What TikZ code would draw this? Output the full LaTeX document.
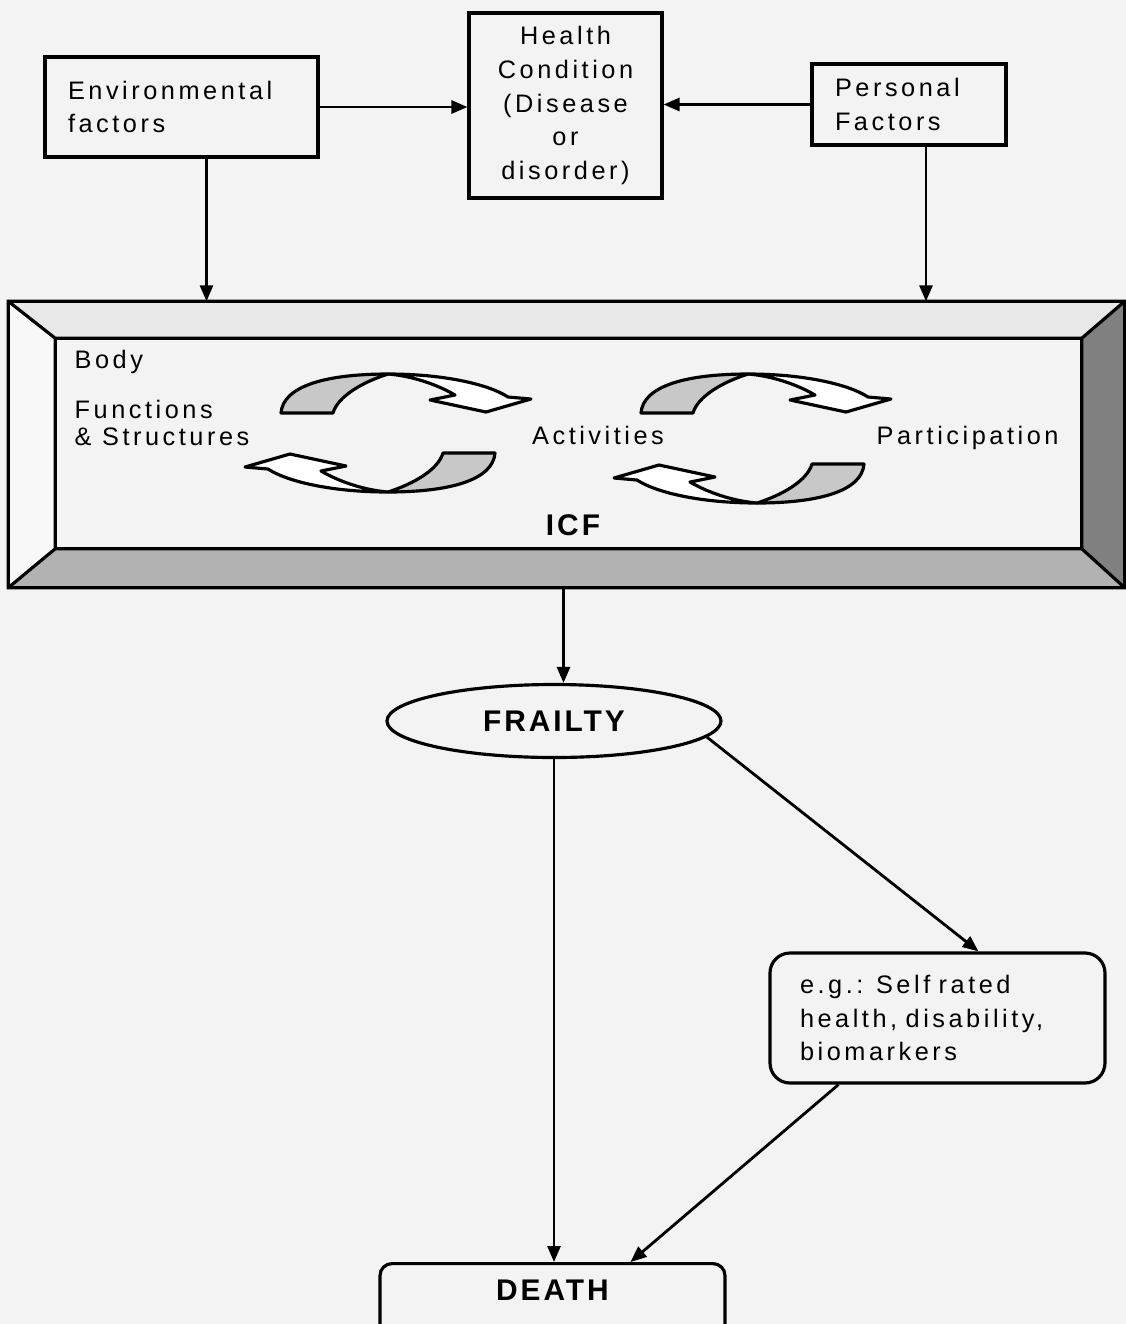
\documentclass[tikz,border=0pt]{standalone}
\usepackage{fontspec}
\setmainfont{Liberation Sans}[LetterSpace=14]
\newfontfamily\headfont{Liberation Sans}[LetterSpace=10]
\usetikzlibrary{positioning,arrows.meta,shapes.geometric}
\definecolor{paper}{RGB}{243,243,243}
\definecolor{ribgray}{RGB}{200,200,200}
\definecolor{bevtop}{RGB}{232,232,232}
\definecolor{bevleft}{RGB}{248,248,248}
\definecolor{bevright}{RGB}{128,128,128}
\definecolor{bevbot}{RGB}{178,178,178}
\tikzset{
  txt/.style={font=\fontsize{7.2}{9.6}\selectfont},
  fbox/.style={txt,draw,line width=0.9pt,inner sep=0pt},
  hlab/.style={font=\headfont\bfseries\fontsize{8.5}{10}\selectfont},
  arr/.style={line width=0.8pt,-{Triangle[length=1.6mm,width=1.3mm]}},
  rib/.style={draw,line width=0.9pt,line join=round},
  cyc/.pic={
    \filldraw[rib,fill=ribgray] (-1.07,-0.39) .. controls (-1.05,-0.12) and (-0.62,0) .. (0,0) .. controls (-0.25,-0.08) and (-0.50,-0.22) .. (-0.55,-0.39) -- cycle;
    \filldraw[rib,fill=white] (0,0) .. controls (0.55,0) and (1.00,-0.10) .. (1.20,-0.23) -- (1.43,-0.25) -- (0.98,-0.38) -- (0.42,-0.26) -- (0.67,-0.21) .. controls (0.50,-0.11) and (0.25,-0.02) .. (0,0) -- cycle;
  }
}

\begin{document}
\begin{tikzpicture}
  \useasboundingbox[fill=paper] (0,0) rectangle (11.26,-13.24);
  \node[fbox,minimum width=2.73cm,minimum height=1cm,text width=2.27cm,align=left] (env) at (1.815,-1.07) {Environmental\\factors};
  \node[fbox,minimum width=1.93cm,minimum height=1.85cm,align=center] (health) at (5.655,-1.055) {Health\\Condition\\(Disease\\or\\disorder)};
  \node[fbox,minimum width=1.94cm,minimum height=0.81cm,text width=1.48cm,align=left] (pers) at (9.09,-1.045) {Personal\\Factors};

  \node[minimum width=11.15cm,minimum height=2.85cm,inner sep=0pt] (icf) at (5.665,-4.445) {};
  \coordinate (inw) at ([shift={(0.47,-0.37)}]icf.north west);
  \coordinate (ine) at ([shift={(-0.43,-0.37)}]icf.north east);
  \coordinate (ise) at ([shift={(-0.43,0.39)}]icf.south east);
  \coordinate (isw) at ([shift={(0.47,0.39)}]icf.south west);
  \fill[bevtop] (icf.north west) -- (icf.north east) -- (ine) -- (inw) -- cycle;
  \fill[bevright] (icf.north east) -- (icf.south east) -- (ise) -- (ine) -- cycle;
  \fill[bevbot] (icf.south east) -- (icf.south west) -- (isw) -- (ise) -- cycle;
  \fill[bevleft] (icf.south west) -- (icf.north west) -- (inw) -- (isw) -- cycle;
  \draw[line width=0.9pt] (icf.north west) rectangle (icf.south east) (inw) rectangle (ise)
    (icf.north west) -- (inw) (icf.north east) -- (ine) (icf.south east) -- (ise) (icf.south west) -- (isw);

  \node[txt,anchor=west,inner sep=0pt] (body) at (0.74,-3.62) {Body};
  \node[txt,anchor=west,inner sep=0pt,align=left,font=\fontsize{7.2}{7.9}\selectfont] (func) at (0.74,-4.23) {Functions\\\& Structures};
  \node[txt] (act) at (5.98,-4.35) {Activities};
  \node[txt,anchor=west,inner sep=0pt] (part) at (8.76,-4.38) {Participation};
  \node[hlab] (icflab) at (5.73,-5.25) {ICF};
  \pic at (3.88,-3.74) {cyc};
  \pic[rotate=180] at (3.88,-4.92) {cyc};
  \pic at (7.48,-3.74) {cyc};
  \pic[rotate=180] at (7.57,-5.03) {cyc};

  \node[ellipse,draw,line width=0.9pt,minimum width=3.34cm,minimum height=0.73cm,inner sep=0pt,hlab] (frail) at (5.54,-7.21) {FRAILTY};
  \node[fbox,rounded corners=0.2cm,minimum width=3.35cm,minimum height=1.30cm,text width=2.75cm,align=left,font=\fontsize{7.2}{9.5}\selectfont] (eg) at (9.375,-10.18) {e.g.: Self rated\\health, disability,\\biomarkers};
  \node[fbox,hlab,rounded corners=0.12cm,minimum width=3.45cm,anchor=north,text height=0.27cm,text depth=0.6cm,inner ysep=0.1cm] (death) at (5.525,-12.62) {DEATH};

  \draw[arr] (env.east) -- (env.east -| health.west);
  \draw[arr] (pers.west) -- (pers.west -| health.east);
  \draw[arr] ([xshift=0.25cm]env.south) -- ([xshift=0.25cm]env.south |- icf.north);
  \draw[arr] ([xshift=0.17cm]pers.south) -- ([xshift=0.17cm]pers.south |- icf.north);
  \draw[arr] ([xshift=-0.03cm]icf.south) -- ([xshift=-0.03cm]icf.south |- frail.north);
  \draw[arr] (frail.south) -- (frail.south |- death.north);
  \draw[arr] (frail.-6) -- ([xshift=0.41cm]eg.north);
  \draw[arr] ([xshift=-0.99cm]eg.south) -- ([xshift=0.78cm]death.north);
\end{tikzpicture}
\end{document}
